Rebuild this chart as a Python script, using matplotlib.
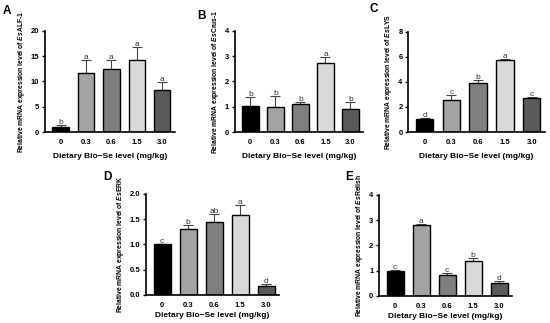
import matplotlib
matplotlib.use("Agg")
import matplotlib.pyplot as plt
import numpy as np

plt.rcParams['font.family'] = ['Liberation Sans', 'DejaVu Sans']
plt.rcParams['mathtext.fontset'] = 'custom'
plt.rcParams['mathtext.it'] = 'Liberation Sans:bold:italic'
plt.rcParams['mathtext.rm'] = 'Liberation Sans:bold'
plt.rcParams['mathtext.bf'] = 'Liberation Sans:bold'

categories = ["0", "0.3", "0.6", "1.5", "3.0"]
colors = ["#000000", "#a3a3a3", "#7f7f7f", "#d9d9d9", "#5a5a5a"]

A_vals = [1.0, 11.7, 12.5, 14.3, 8.4]
A_err = [0.3, 2.5, 1.8, 2.5, 1.5]
A_let = ["b", "a", "a", "a", "a"]

B_vals = [1.03, 0.97, 1.12, 2.73, 0.92]
B_err = [0.35, 0.45, 0.08, 0.25, 0.25]
B_let = ["b", "b", "b", "a", "b"]

C_vals = [1.0, 2.55, 3.93, 5.72, 2.68]
C_err = [0.1, 0.4, 0.25, 0.1, 0.15]
C_let = ["d", "c", "b", "a", "c"]

D_vals = [1.0, 1.31, 1.45, 1.59, 0.17]
D_err = [0.0, 0.08, 0.15, 0.2, 0.05]
D_let = ["c", "b", "ab", "a", "d"]

E_vals = [1.0, 2.8, 0.85, 1.4, 0.5]
E_err = [0.02, 0.03, 0.05, 0.12, 0.1]
E_let = ["c", "a", "c", "b", "d"]

fig = plt.figure(figsize=(5.5, 3.23), dpi=100)

panels = [
    ("A", [0.0818, 0.5913, 0.236, 0.313], A_vals, A_err, A_let, 20, [0, 5, 10, 15, 20], "ALF-1", (0.005, 0.985), 5),
    ("B", [0.427, 0.5913, 0.233, 0.313], B_vals, B_err, B_let, 4, [0, 1, 2, 3, 4], "Crus-1", (0.358, 0.97), 5),
    ("C", [0.742, 0.5913, 0.249, 0.310], C_vals, C_err, C_let, 8, [0, 2, 4, 6, 8], "LYS", (0.672, 0.99), 5),
    ("D", [0.2655, 0.0867, 0.242, 0.313], D_vals, D_err, D_let, 2.0, [0.0, 0.5, 1.0, 1.5, 2.0], "ERK", (0.187, 0.47), 2),
    ("E", [0.689, 0.0836, 0.242, 0.313], E_vals, E_err, E_let, 4, [0, 1, 2, 3, 4], "Relish", (0.627, 0.47), 2),
]

for lab, pos, vals, err, lets, ymax, yticks, gene, lpos, xpad in panels:
    ax = fig.add_axes(pos)
    x = np.arange(len(categories))
    ax.bar(x, vals, width=0.65, color=colors, edgecolor="black", linewidth=1.0, zorder=2)
    ax.errorbar(x, vals, yerr=[np.zeros(len(err)), err], fmt="none", ecolor="#444444",
                elinewidth=0.8, capsize=3.5, capthick=0.8, zorder=1)
    for xi, v, e, t in zip(x, vals, err, lets):
        ax.text(xi, v + e - ymax * 0.01, t, ha="center", va="bottom", fontsize=6,
                color="#333333")
    ax.set_xlim(-0.62, 4.5)
    ax.set_ylim(0, ymax)
    ax.set_yticks(yticks)
    if ymax == 2.0:
        ax.set_yticklabels(["%.1f" % t for t in yticks])
    ax.set_xticks(x)
    ax.set_xticklabels(categories)
    ax.tick_params(axis="x", length=0, pad=5, labelsize=5.5)
    ax.tick_params(axis="y", length=2.5, width=1.0, pad=1.5, labelsize=5.5)
    for t in ax.get_xticklabels() + ax.get_yticklabels():
        t.set_fontweight("bold")
    ax.spines["top"].set_visible(False)
    ax.spines["right"].set_visible(False)
    ax.spines["left"].set_linewidth(1.2)
    ax.spines["bottom"].set_linewidth(1.2)
    ax.set_xlabel("Dietary Bio\u2212Se level (mg/kg)", fontsize=6, fontweight="bold", labelpad=xpad)
    ax.set_ylabel("Relative mRNA expression level of $\\it{Es}$" + gene, fontsize=4.9,
                  fontweight="bold", labelpad=3)
    fig.text(lpos[0], lpos[1], lab, fontsize=8.5, fontweight="bold", va="top", ha="left")

fig.savefig("out.png", dpi=100)
